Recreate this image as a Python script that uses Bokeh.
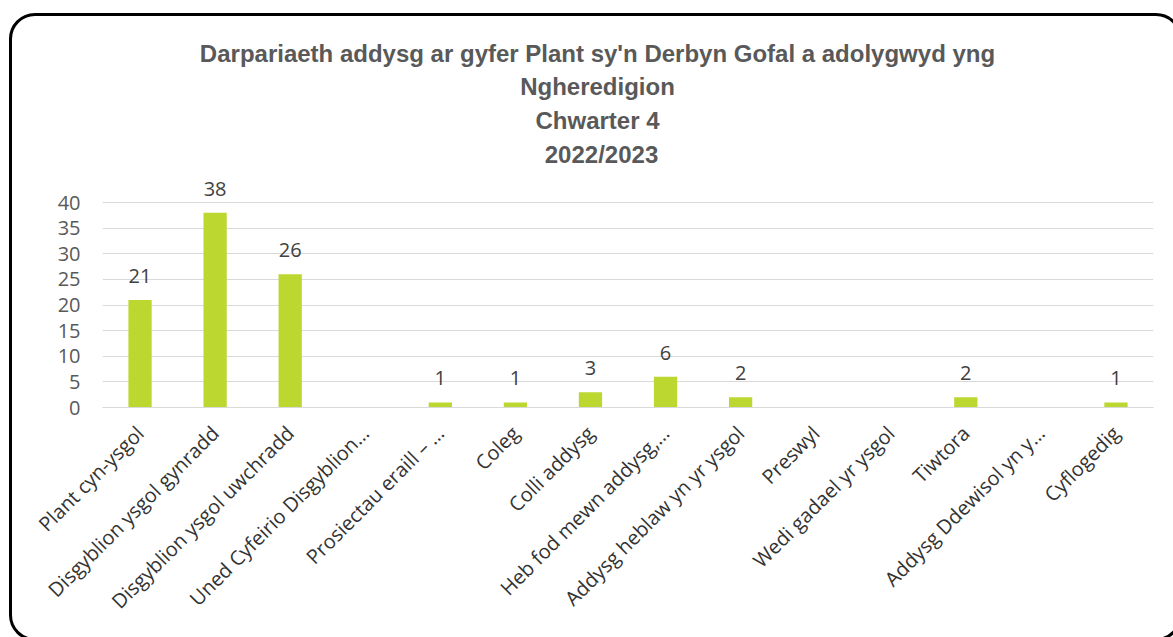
from bokeh.plotting import figure
from bokeh.models import Range1d, FixedTicker, Label, ColumnDataSource, LabelSet, InlineStyleSheet
from bokeh.core.properties import value
from bokeh.embed import file_html
from bokeh.resources import INLINE
from math import pi

categories = ["Plant cyn-ysgol", "Disgyblion ysgol gynradd", "Disgyblion ysgol uwchradd",
              "Uned Cyfeirio Disgyblion…", "Prosiectau eraill – …", "Coleg", "Colli addysg",
              "Heb fod mewn addysg,…", "Addysg heblaw yn yr ysgol", "Preswyl",
              "Wedi gadael yr ysgol", "Tiwtora", "Addysg Ddewisol yn y…", "Cyflogedig"]
values = [21, 38, 26, 0, 1, 1, 3, 6, 2, 0, 0, 2, 0, 1]
title_lines = ["Darpariaeth addysg ar gyfer Plant sy'n Derbyn Gofal a adolygwyd yng",
               "Ngheredigion", "Chwarter 4", "2022/2023"]
y_ticks = [0, 5, 10, 15, 20, 25, 30, 35, 40]

xs = [i + 0.5 for i in range(len(categories))]
PX = 5.125  # pixels per y unit

p = figure(width=1173, height=637, output_backend="svg", toolbar_location=None,
           x_range=Range1d(0, len(categories)), y_range=Range1d(0, 407 / PX),
           min_border_left=102, min_border_right=20, min_border_top=0, min_border_bottom=230)
p.outline_line_color = None
p.background_fill_color = "white"
p.border_fill_color = "white"

src = ColumnDataSource(dict(x=xs, top=values, cat=categories))
p.vbar(x="x", top="top", width=0.31, source=src, fill_color="#BDD731", line_color=None)

lab_x = [x for x, v in zip(xs, values) if v > 0]
lab_v = [v for v in values if v > 0]
lsrc = ColumnDataSource(dict(x=lab_x, y=lab_v, t=[str(v) for v in lab_v]))
p.add_layout(LabelSet(x="x", y="y", text="t", source=lsrc, text_align="center",
                      text_baseline="bottom", y_offset=17, text_font=value("Open Sans"),
                      text_font_size="20px", text_color="#404040"))

# axes
p.xaxis.ticker = FixedTicker(ticks=xs)
p.xaxis.major_label_overrides = {x: c for x, c in zip(xs, categories)}
p.xaxis.major_label_orientation = pi / 4
p.xaxis.major_label_text_font = "Open Sans"
p.xaxis.major_label_text_font_size = "20px"
p.xaxis.major_label_text_color = "#333333"
p.xaxis.major_tick_in = 0
p.xaxis.major_tick_out = 0
p.xaxis.major_label_standoff = 22
p.xaxis.axis_line_color = "#D9D9D9"
p.xaxis.axis_line_width = 1
p.xaxis.major_tick_line_color = None
p.xaxis.minor_tick_line_color = None

p.yaxis.ticker = FixedTicker(ticks=y_ticks)
p.yaxis.major_label_text_font = "Open Sans"
p.yaxis.major_label_text_font_size = "20px"
p.yaxis.major_label_text_color = "#595959"
p.yaxis.axis_line_color = None
p.yaxis.major_tick_in = 0
p.yaxis.major_tick_out = 0
p.yaxis.major_tick_line_color = None
p.yaxis.minor_tick_line_color = None
p.yaxis.major_label_standoff = 22

p.xgrid.grid_line_color = None
p.ygrid.ticker = FixedTicker(ticks=y_ticks)
p.ygrid.grid_line_color = "#D9D9D9"
p.ygrid.grid_line_width = 1

# title (screen units, relative to the frame)
title_y = [53, 86, 120, 154]
title_dx = [0, 0, 0, 4]
for t, y, dx in zip(title_lines, title_y, title_dx):
    p.add_layout(Label(x=597 - 102, y=407 - y, x_units="screen", y_units="screen", text=t,
                       x_offset=dx, text_align="center", text_baseline="middle",
                       text_font="Liberation Sans", text_font_style="bold",
                       text_font_size="24px", text_color="#595959"))

# rounded chart-area border (decoration, CSS)
p.stylesheets = [InlineStyleSheet(css="""
:host { overflow: hidden; position: relative; }
:host::after {
  content: ''; position: absolute; left: 8.5px; top: 12.5px;
  width: 1173px; height: 628px; box-sizing: border-box;
  border: 3px solid black; border-radius: 26px; pointer-events: none;
}
""")]

open("out.html", "w").write(file_html(p, INLINE))
